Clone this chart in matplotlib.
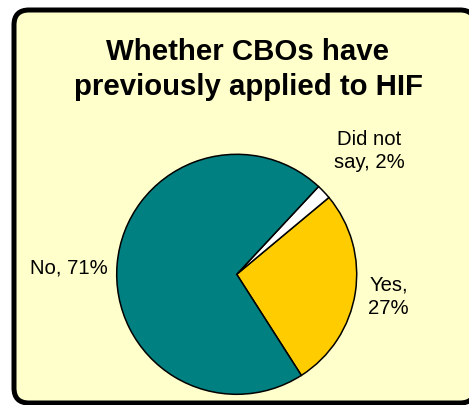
import numpy as np
import matplotlib
matplotlib.use("Agg")
import matplotlib.pyplot as plt
from matplotlib.patches import FancyBboxPatch

plt.rcParams['font.family'] = ['Liberation Sans', 'DejaVu Sans']

# dados do grafico (ordem anti-horaria a partir do startangle)
categorias = ['Yes', 'Did not say', 'No']
percentuais = [27, 2, 71]
rotulos = ['Yes,\n27%', 'Did not\nsay, 2%', 'No, 71%']
cores = ['#FFCC00', '#FFFFFF', '#008080']
titulo = 'Whether CBOs have\npreviously applied to HIF'

W, H = 469, 405
fig = plt.figure(figsize=(W / 100, H / 100), dpi=100)
fig.patch.set_facecolor('white')

# fundo com a moldura arredondada, em coordenadas de pixel
# (a borda direita e a de baixo ficam cortadas pela imagem)
fundo = fig.add_axes([0, 0, 1, 1])
fundo.set_xlim(0, W)
fundo.set_ylim(H, 0)
fundo.axis('off')
moldura = FancyBboxPatch((14, 10), 475 - 14, 403 - 10,
                         boxstyle='round,pad=0,rounding_size=15',
                         facecolor='#FFFFCC', edgecolor='black', linewidth=3.6,
                         clip_on=False)
fundo.add_patch(moldura)

# com va='baseline' o texto de varias linhas alinha pela ultima linha
fundo.text(248, 95, titulo, ha='center', va='baseline', fontsize=21.2,
           fontweight='bold', linespacing=1.32, color='black')

# pizza: centro (236.7, 274.3) px, raio 120 px
cx, cy, r = 236.7, 274.3, 120
ax = fig.add_axes([(cx - r) / W, (H - cy - r) / H, 2 * r / W, 2 * r / H])

fatias, _ = ax.pie(percentuais, colors=cores, startangle=-57.4,
                   counterclock=True, radius=1,
                   wedgeprops=dict(edgecolor='black', linewidth=1.1))
ax.set_xlim(-1, 1)
ax.set_ylim(-1, 1)
ax.axis('off')

distancias = [1.28, 1.51, 1.40]
ajuste_ang = [0.5, -0.5, 3.0]
for fatia, rot, d, da in zip(fatias, rotulos, distancias, ajuste_ang):
    ang = np.deg2rad((fatia.theta1 + fatia.theta2) / 2 + da)
    ax.text(d * np.cos(ang), d * np.sin(ang), rot, ha='center', va='center',
            fontsize=14.6, linespacing=1.3, clip_on=False, color='black')

fig.savefig('out.png', dpi=100, facecolor=fig.get_facecolor())
